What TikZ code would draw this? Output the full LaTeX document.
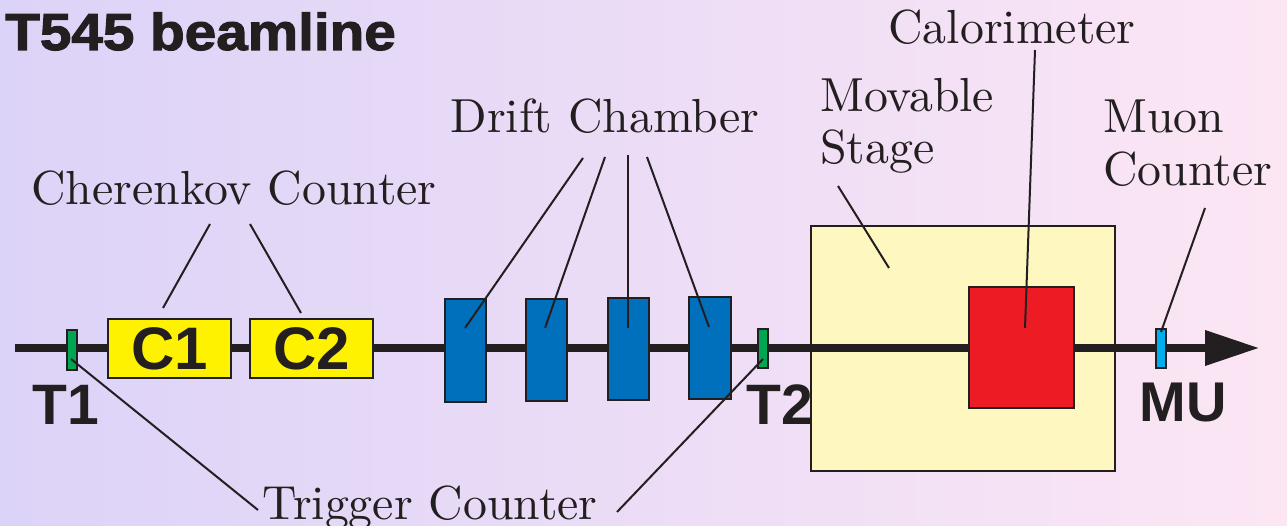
\documentclass[tikz,border=0pt]{standalone}
\usepackage{fontspec}
\newfontfamily\hsans{Liberation Sans}
\newfontfamily\hblack{Liberation Sans}[BoldFeatures={FakeBold=2}]
\newfontfamily\lmten{lmroman10-regular}[Extension=.otf]
\usetikzlibrary{arrows.meta}
\definecolor{ink}{RGB}{35,31,32}
\definecolor{bgL}{RGB}{220,211,248}
\definecolor{bgR}{RGB}{252,230,244}
\definecolor{tgreen}{RGB}{0,166,81}
\definecolor{cyel}{RGB}{255,242,0}
\definecolor{dblue}{RGB}{0,112,188}
\definecolor{cred}{RGB}{237,28,36}
\definecolor{mcyan}{RGB}{0,174,239}
\definecolor{stagecol}{RGB}{255,247,192}
\tikzset{
  part/.style={draw=ink, line width=2.5pt, inner sep=0pt, rectangle},
  leader/.style={draw=ink, line width=2pt},
  serif/.style={text=ink, inner sep=0pt, font=\lmten\fontsize{47.8}{52}\selectfont},
  blab/.style={text=ink, inner sep=0pt, font=\hsans\bfseries\fontsize{57}{60}\selectfont},
}
\begin{document}
\begin{tikzpicture}[x=1pt,y=-1pt]
\useasboundingbox (0,0) rectangle (1287,526);
\shade[left color=bgL, right color=bgR] (0,0) rectangle (1287,526);
% title
\node[anchor=base west, inner sep=0pt, text=ink, xscale=1.09, font=\hblack\bfseries\fontsize{52}{56}\selectfont] (title) at (5,50) {T545 beamline};
% movable stage
\node[part, fill=stagecol, minimum width=304pt, minimum height=245pt] (stage) at (963,348.5) {};
% beamline
\coordinate (bstart) at (15,348);
\coordinate (bend) at (1259,348);
\draw[ink, line width=7pt, -{Triangle[length=54pt,width=34pt]}] (bstart) -- (bend);
% components
\node[part, fill=tgreen, minimum width=10pt, minimum height=40pt] (t1) at (72,350) {};
\node[part, fill=cyel, minimum width=123pt, minimum height=59pt, font=\hsans\bfseries\fontsize{60}{60}\selectfont, text=ink] (c1) at (169.5,348.5) {C1};
\node[part, fill=cyel, minimum width=123pt, minimum height=59pt, font=\hsans\bfseries\fontsize{60}{60}\selectfont, text=ink] (c2) at (311.5,348.5) {C2};
\node[part, fill=dblue, minimum width=41pt, minimum height=103pt] (dc1) at (465.5,350.5) {};
\node[part, fill=dblue, minimum width=41pt, minimum height=102pt] (dc2) at (546.5,350) {};
\node[part, fill=dblue, minimum width=41pt, minimum height=102pt] (dc3) at (628.5,349) {};
\node[part, fill=dblue, minimum width=42pt, minimum height=102pt] (dc4) at (710,348) {};
\node[part, fill=tgreen, minimum width=10pt, minimum height=39pt] (t2) at (763,348.5) {};
\node[part, fill=cred, minimum width=105pt, minimum height=121pt] (cal) at (1021.5,347.5) {};
\node[part, fill=mcyan, minimum width=10pt, minimum height=39pt] (mu) at (1161,348.5) {};
% bold labels
\node[blab, anchor=base] (t1lab) at (66,424) {T1};
\node[blab, anchor=base] (t2lab) at (780,424) {T2};
\node[blab, anchor=base, font=\hsans\bfseries\fontsize{56}{60}\selectfont] (mulab) at (1183.5,421) {MU};
% serif labels
\node[serif, anchor=base] (cher) at (234,205) {Cherenkov Counter};
\node[serif, anchor=base] (drift) at (605,133) {Drift Chamber};
\node[serif, anchor=base west] (movA) at (820,112) {Movable};
\node[serif, anchor=base west] (movB) at (820,164) {Stage};
\node[serif, anchor=base] (calo) at (1012,44) {Calorimeter};
\node[serif, anchor=base west] (muonA) at (1103,133) {Muon};
\node[serif, anchor=base west] (muonB) at (1103,186) {Counter};
\node[serif, anchor=base] (trig) at (430,519) {Trigger Counter};
% leader end points
\coordinate (cherL) at (210,224); \coordinate (c1p) at (163,308);
\coordinate (cherR) at (250,224); \coordinate (c2p) at (301,313);
\coordinate (dr1) at (583,158); \coordinate (dc1p) at (465,328);
\coordinate (dr2) at (605,157); \coordinate (dc2p) at (545,328);
\coordinate (dr3) at (628,155); \coordinate (dc3p) at (628,328);
\coordinate (dr4) at (647,157); \coordinate (dc4p) at (709,327);
\coordinate (movp) at (838,186); \coordinate (stagep) at (889,268);
\coordinate (calp) at (1035,50); \coordinate (calin) at (1025,328);
\coordinate (muonp) at (1205,208); \coordinate (mup) at (1161,332);
\coordinate (t1p) at (71,359); \coordinate (trigL) at (258,510);
\coordinate (t2p) at (763,359); \coordinate (trigR) at (617,512);
\draw[leader] (cherL) -- (c1p);
\draw[leader] (cherR) -- (c2p);
\draw[leader] (dr1) -- (dc1p);
\draw[leader] (dr2) -- (dc2p);
\draw[leader] (dr3) -- (dc3p);
\draw[leader] (dr4) -- (dc4p);
\draw[leader] (movp) -- (stagep);
\draw[leader] (calp) -- (calin);
\draw[leader] (muonp) -- (mup);
\draw[leader] (t1p) -- (trigL);
\draw[leader] (t2p) -- (trigR);
\end{tikzpicture}
\end{document}
